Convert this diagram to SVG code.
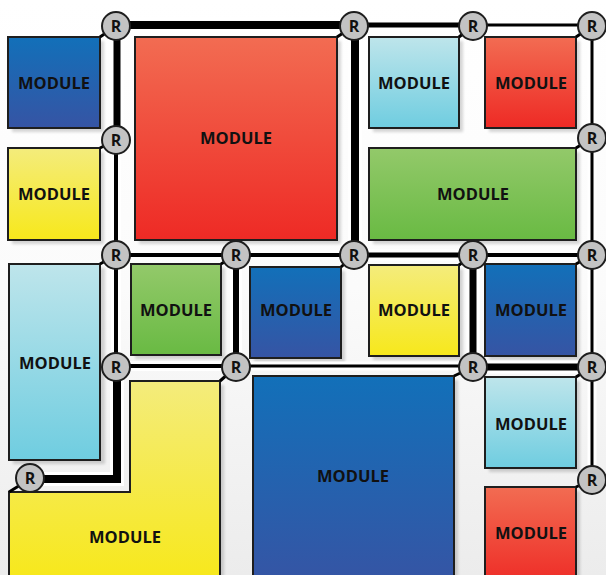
<svg xmlns="http://www.w3.org/2000/svg" width="606" height="575" viewBox="0 0 606 575">
<defs>
<linearGradient id="bg" x1="0" y1="0" x2="0" y2="1"><stop offset="0" stop-color="#ffffff"/><stop offset="0.5" stop-color="#fbfbfb"/><stop offset="1" stop-color="#ececec"/></linearGradient>
<linearGradient id="gBlue" x1="0" y1="0" x2="0" y2="1"><stop offset="0" stop-color="#1270b9"/><stop offset="1" stop-color="#3654a4"/></linearGradient>
<linearGradient id="gRed" x1="0" y1="0" x2="0" y2="1"><stop offset="0" stop-color="#f26c52"/><stop offset="1" stop-color="#ee2a25"/></linearGradient>
<linearGradient id="gCyan" x1="0" y1="0" x2="0" y2="1"><stop offset="0" stop-color="#bee5eb"/><stop offset="1" stop-color="#6fcde0"/></linearGradient>
<linearGradient id="gYellow" x1="0" y1="0" x2="0" y2="1"><stop offset="0" stop-color="#f4ec7c"/><stop offset="1" stop-color="#f7e81b"/></linearGradient>
<linearGradient id="gGreen" x1="0" y1="0" x2="0" y2="1"><stop offset="0" stop-color="#93c96a"/><stop offset="1" stop-color="#69ba43"/></linearGradient>
<filter id="sh" x="-10%" y="-10%" width="130%" height="130%"><feGaussianBlur stdDeviation="1.5"/></filter>
</defs>
<style>
.m{stroke:#1e1e1e;stroke-width:2}
.s{fill:#000;opacity:0.16;filter:url(#sh)}
.lbl{font-family:"Open Sans","Liberation Sans",sans-serif;font-weight:bold;font-size:16.5px;fill:#111;text-anchor:middle}
.halo{fill:none;stroke:#fff;stroke-linejoin:miter}
.lk{fill:none;stroke:#000;stroke-linejoin:miter}
.cn{stroke:#000;stroke-width:3}
.r circle{fill:#c3c3c3;stroke:#1e1e1e;stroke-width:2}
.r text{font-family:"Open Sans","Liberation Sans",sans-serif;font-weight:bold;font-size:16px;fill:#111;text-anchor:middle}
</style>
<rect x="0" y="0" width="606" height="575" fill="url(#bg)"/>

<g id="modules">
<g id="m1"><rect class="s" x="12" y="41" width="92" height="91"/><rect class="m" x="8" y="37" width="92" height="91" fill="url(#gBlue)"/><text class="lbl" x="54" y="89">MODULE</text></g>
<g id="m2"><rect class="s" x="139" y="41" width="202" height="203"/><rect class="m" x="135" y="37" width="202" height="203" fill="url(#gRed)"/><text class="lbl" x="236" y="144">MODULE</text></g>
<g id="m3"><rect class="s" x="373" y="41" width="90" height="91"/><rect class="m" x="369" y="37" width="90" height="91" fill="url(#gCyan)"/><text class="lbl" x="414" y="89">MODULE</text></g>
<g id="m4"><rect class="s" x="489" y="41" width="91" height="91"/><rect class="m" x="485" y="37" width="91" height="91" fill="url(#gRed)"/><text class="lbl" x="531" y="89">MODULE</text></g>
<g id="m5"><rect class="s" x="12" y="152" width="92" height="92"/><rect class="m" x="8" y="148" width="92" height="92" fill="url(#gYellow)"/><text class="lbl" x="54" y="200">MODULE</text></g>
<g id="m6"><rect class="s" x="373" y="152" width="207" height="92"/><rect class="m" x="369" y="148" width="207" height="92" fill="url(#gGreen)"/><text class="lbl" x="473" y="200">MODULE</text></g>
<g id="m7"><rect class="s" x="13" y="268" width="92" height="196"/><rect class="m" x="9" y="264" width="91" height="196" fill="url(#gCyan)"/><text class="lbl" x="55" y="369">MODULE</text></g>
<g id="m8"><rect class="s" x="135" y="268" width="90" height="91"/><rect class="m" x="131" y="264" width="90" height="91" fill="url(#gGreen)"/><text class="lbl" x="176" y="316">MODULE</text></g>
<g id="m9"><rect class="s" x="254" y="271" width="91" height="91"/><rect class="m" x="250" y="267" width="91" height="91" fill="url(#gBlue)"/><text class="lbl" x="296" y="316">MODULE</text></g>
<g id="m10"><rect class="s" x="373" y="269" width="90" height="91"/><rect class="m" x="369" y="265" width="90" height="91" fill="url(#gYellow)"/><text class="lbl" x="414" y="316">MODULE</text></g>
<g id="m11"><rect class="s" x="489" y="268" width="91" height="92"/><rect class="m" x="485" y="264" width="91" height="92" fill="url(#gBlue)"/><text class="lbl" x="531" y="316">MODULE</text></g>
<g id="m12"><path class="s" d="M134,385 H224 V584 H13 V496 H134 Z"/><path class="m" d="M130,381 H220 V580 H9 V492 H130 Z" fill="url(#gYellow)"/><text class="lbl" x="125" y="543">MODULE</text></g>
<g id="m13"><rect class="s" x="257" y="380" width="201" height="210"/><rect class="m" x="253" y="376" width="201" height="210" fill="url(#gBlue)"/><text class="lbl" x="353" y="482">MODULE</text></g>
<g id="m14"><rect class="s" x="489" y="381" width="91" height="91"/><rect class="m" x="485" y="377" width="91" height="91" fill="url(#gCyan)"/><text class="lbl" x="531" y="430">MODULE</text></g>
<g id="m15"><rect class="s" x="489" y="491" width="91" height="100"/><rect class="m" x="485" y="487" width="91" height="100" fill="url(#gRed)"/><text class="lbl" x="531" y="539">MODULE</text></g>
</g>

<g id="connectors">
<g id="halos">
<path class="halo" stroke-width="14" d="M116,25 H354"/>
<path class="halo" stroke-width="11" d="M354,25 H473"/>
<path class="halo" stroke-width="9" d="M473,25 H592"/>
<path class="halo" stroke-width="13" d="M117,26 V140"/>
<path class="halo" stroke-width="14" d="M355,26 V255"/>
<path class="halo" stroke-width="9" d="M592,26 V255"/>
<path class="halo" stroke-width="10" d="M116,140 V367"/>
<path class="halo" stroke-width="10" d="M116,255 H354"/>
<path class="halo" stroke-width="11" d="M354,255 H473"/>
<path class="halo" stroke-width="10" d="M473,255 H592"/>
<path class="halo" stroke-width="12" d="M236,255 V367"/>
<path class="halo" stroke-width="13" d="M473,255 V367"/>
<path class="halo" stroke-width="9" d="M592,255 V480"/>
<path class="halo" stroke-width="10" d="M116,366 H236"/>
<path class="halo" stroke-width="9" d="M236,366 H473"/>
<path class="halo" stroke-width="13" d="M473,367 H592"/>
<path class="halo" stroke-width="14" d="M117,367 V479 H30"/>
</g>
<path class="lk" stroke-width="8" d="M116,25 H354"/>
<path class="lk" stroke-width="5" d="M354,25 H473"/>
<path class="lk" stroke-width="3" d="M473,25 H592"/>
<path class="lk" stroke-width="7" d="M117,26 V140"/>
<path class="lk" stroke-width="8" d="M355,26 V255"/>
<path class="lk" stroke-width="3" d="M592,26 V255"/>
<path class="lk" stroke-width="4" d="M116,140 V255"/>
<path class="lk" stroke-width="4" d="M116,255 V367"/>
<path class="lk" stroke-width="4" d="M116,255 H236"/>
<path class="lk" stroke-width="4" d="M236,255 H354"/>
<path class="lk" stroke-width="5" d="M354,255 H473"/>
<path class="lk" stroke-width="4" d="M473,255 H592"/>
<path class="lk" stroke-width="6" d="M236,255 V367"/>
<path class="lk" stroke-width="7" d="M473,255 V367"/>
<path class="lk" stroke-width="3" d="M592,255 V367"/>
<path class="lk" stroke-width="3" d="M592,367 V480"/>
<path class="lk" stroke-width="4" d="M116,366 H236"/>
<path class="lk" stroke-width="3" d="M236,366 H473"/>
<path class="lk" stroke-width="7" d="M473,367 H592"/>
<path class="lk" stroke-width="8" d="M117,367 V479 H30"/>
<line class="cn" x1="116" y1="26" x2="100" y2="37"/>
<line class="cn" x1="354" y1="26" x2="337" y2="37"/>
<line class="cn" x1="473" y1="26" x2="459" y2="37"/>
<line class="cn" x1="592" y1="26" x2="576" y2="37"/>
<line class="cn" x1="116" y1="140" x2="100" y2="148"/>
<line class="cn" x1="592" y1="138" x2="576" y2="148"/>
<line class="cn" x1="116" y1="255" x2="100" y2="264"/>
<line class="cn" x1="236" y1="255" x2="221" y2="264"/>
<line class="cn" x1="354" y1="255" x2="341" y2="267"/>
<line class="cn" x1="473" y1="255" x2="459" y2="265"/>
<line class="cn" x1="592" y1="255" x2="576" y2="264"/>
<line class="cn" x1="236" y1="367" x2="220" y2="381"/>
<line class="cn" x1="473" y1="367" x2="454" y2="376"/>
<line class="cn" x1="592" y1="367" x2="576" y2="377"/>
<line class="cn" x1="592" y1="480" x2="576" y2="487"/>
<line class="cn" x1="30" y1="479" x2="9" y2="492"/>
</g>

<g id="r1" class="r"><circle cx="116" cy="26" r="14"/><text x="116" y="32">R</text></g>
<g id="r2" class="r"><circle cx="354" cy="26" r="14"/><text x="354" y="32">R</text></g>
<g id="r3" class="r"><circle cx="473" cy="26" r="14"/><text x="473" y="32">R</text></g>
<g id="r4" class="r"><circle cx="592" cy="26" r="14"/><text x="592" y="32">R</text></g>
<g id="r5" class="r"><circle cx="116" cy="140" r="14"/><text x="116" y="146">R</text></g>
<g id="r6" class="r"><circle cx="592" cy="138" r="14"/><text x="592" y="144">R</text></g>
<g id="r7" class="r"><circle cx="116" cy="255" r="14"/><text x="116" y="261">R</text></g>
<g id="r8" class="r"><circle cx="236" cy="255" r="14"/><text x="236" y="261">R</text></g>
<g id="r9" class="r"><circle cx="354" cy="255" r="14"/><text x="354" y="261">R</text></g>
<g id="r10" class="r"><circle cx="473" cy="255" r="14"/><text x="473" y="261">R</text></g>
<g id="r11" class="r"><circle cx="592" cy="255" r="14"/><text x="592" y="261">R</text></g>
<g id="r12" class="r"><circle cx="116" cy="367" r="14"/><text x="116" y="373">R</text></g>
<g id="r13" class="r"><circle cx="236" cy="367" r="14"/><text x="236" y="373">R</text></g>
<g id="r14" class="r"><circle cx="473" cy="367" r="14"/><text x="473" y="373">R</text></g>
<g id="r15" class="r"><circle cx="592" cy="367" r="14"/><text x="592" y="373">R</text></g>
<g id="r16" class="r"><circle cx="30" cy="478" r="14"/><text x="30" y="484">R</text></g>
<g id="r17" class="r"><circle cx="592" cy="480" r="14"/><text x="592" y="486">R</text></g>
</svg>
